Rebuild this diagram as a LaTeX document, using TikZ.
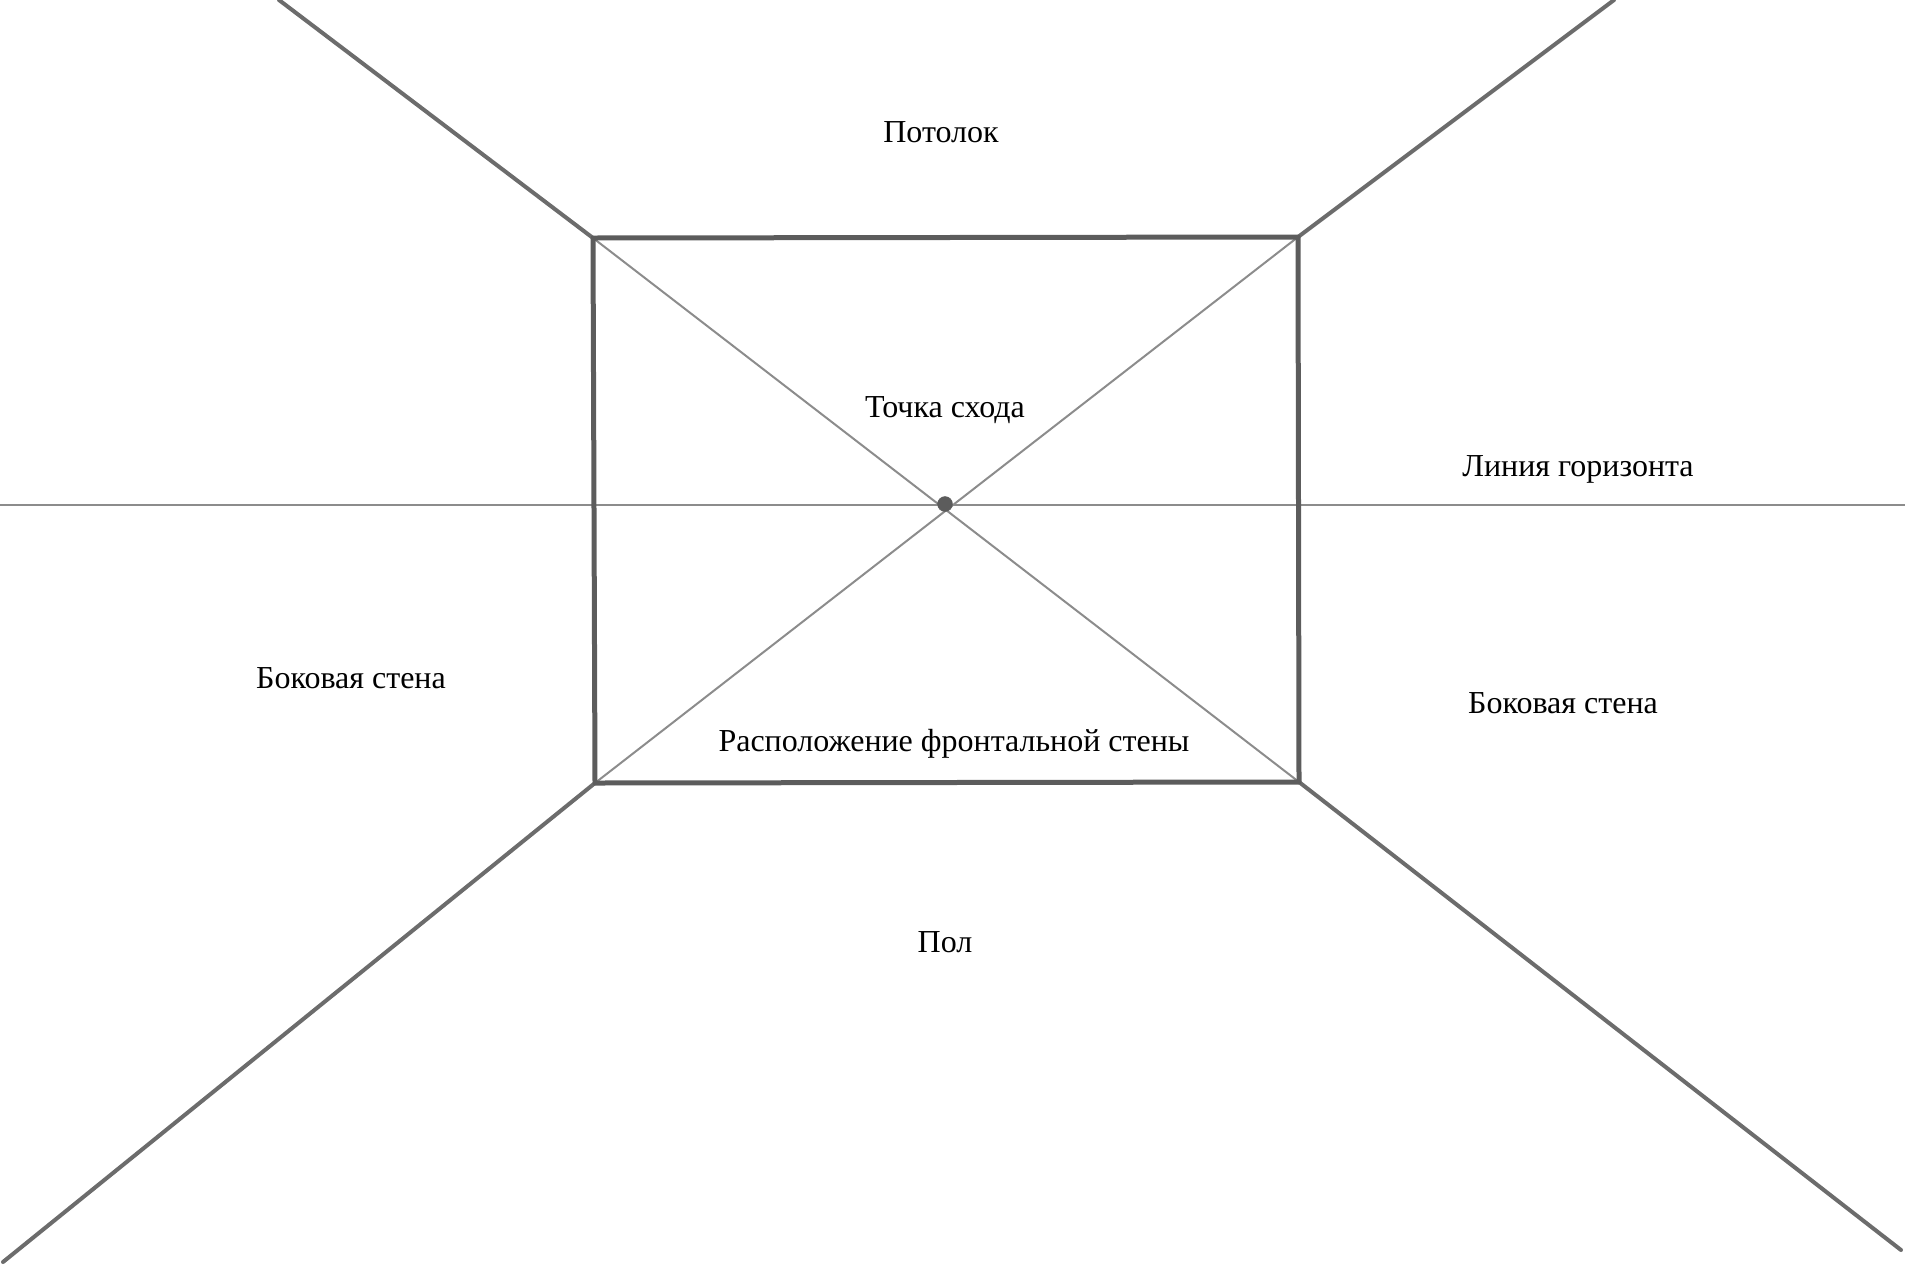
\documentclass[tikz,border=0pt]{standalone}
\usepackage{fontspec}
\setmainfont{Liberation Serif}
\usepackage{tikz}
\usetikzlibrary{positioning, calc}
\definecolor{pencil_dark}{gray}{0.36}
\definecolor{pencil_light}{gray}{0.55}
\tikzstyle{label} = [font=\fontsize{32}{36}\selectfont, inner sep=0pt, text=black]
\tikzstyle{wall} = [line width=5pt, draw=pencil_dark, line cap=round, line join=round]

\begin{document}
\begin{tikzpicture}[
            x=1pt, y=-1pt,
            edge/.style={line width=4pt, draw=pencil_dark!90, line cap=round},
            guide/.style={line width=2pt, draw=pencil_light},
            vpoint/.style={circle, fill=pencil_dark, draw=pencil_dark, minimum size=15pt, inner sep=0pt}
        ]
            \useasboundingbox (0,0) rectangle (1905,1267);

            % Front wall corners
            \coordinate (tl) at (593,238);
            \coordinate (tr) at (1298,237);
            \coordinate (br) at (1299,782);
            \coordinate (bl) at (595,783);

            % Ends of the room edges
            \coordinate (tlEnd) at (279,0);
            \coordinate (trEnd) at (1614,0);
            \coordinate (blEnd) at (3,1262);
            \coordinate (brEnd) at (1901,1250);

            % Horizon ends
            \coordinate (hLeft) at (0,505);
            \coordinate (hRight) at (1905,505);

            % Guides through the vanishing point
            \draw[guide] (hLeft) -- (hRight);
            \draw[guide] (tl) -- (br);
            \draw[guide] (tr) -- (bl);

            % Vanishing point
            \node[vpoint] (vp) at (945,504) {};

            % Room edges
            \draw[edge] (tl) -- (tlEnd);
            \draw[edge] (tr) -- (trEnd);
            \draw[edge] (bl) -- (blEnd);
            \draw[edge] (br) -- (brEnd);

            % Front wall
            \draw[wall] (tl) -- (tr) -- (br) -- (bl) -- cycle;

            % Labels
            \node[label] (ceiling) at (941,132) {Потолок};
            \node[label] (vplabel) at (945,410) {Точка схода};
            \node[label] (horizon) at (1578,469) {Линия горизонта};
            \node[label] (leftwall) at (351,678) {Боковая стена};
            \node[label] (rightwall) at (1563,703) {Боковая стена};
            \node[label] (front) at (954,744) {Расположение фронтальной стены};
            \node[label] (floor) at (945,942) {Пол};
        \end{tikzpicture}
\end{document}
